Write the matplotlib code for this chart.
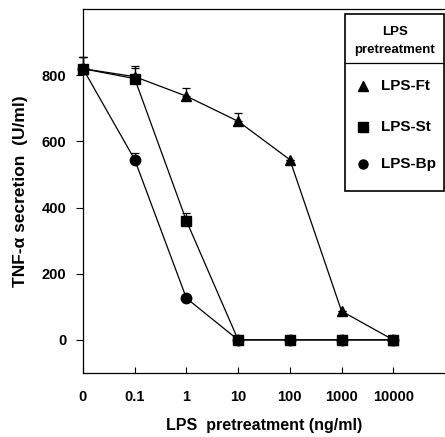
import matplotlib
matplotlib.use("Agg")
import matplotlib.pyplot as plt
from matplotlib.lines import Line2D

plt.rcParams['font.family'] = ['Liberation Sans', 'DejaVu Sans']
plt.rcParams['font.weight'] = 'bold'

# LPS pretreatment doses (categorical positions on x axis)
doses = ['0', '0.1', '1', '10', '100', '1000', '10000']

# TNF-alpha secretion (U/ml)
ft_vals = [820, 796, 737, 661, 545, 87, 0]
st_vals = [820, 790, 360, 0, 0, 0, 0]
bp_vals = [820, 545, 126, 0, 0, 0, 0]

# upper error bars
ft_err = [35, 33, 25, 25, 0, 0, 0]
st_err = [35, 33, 25, 0, 0, 0, 0]
bp_err = [35, 20, 0, 0, 0, 0, 0]

x = list(range(len(doses)))

fig = plt.figure(figsize=(4.45, 4.37), dpi=100)
ax = fig.add_axes([0.1865, 0.1465, 0.8135, 0.8325])

series = [
    (bp_vals, bp_err, 'o', 'LPS-Bp'),
    (st_vals, st_err, 's', 'LPS-St'),
    (ft_vals, ft_err, '^', 'LPS-Ft'),
]
for vals, err, mk, name in series:
    ax.errorbar(x, vals, yerr=[[0] * len(err), err], color='black', lw=0.9,
                marker=mk, markersize=7.5, capsize=3, elinewidth=0.9,
                capthick=0.9, clip_on=False)

ax.set_xlim(0, 7)
ax.set_ylim(-100, 1000)
ax.set_xticks(x)
ax.set_xticklabels(doses)
ax.set_yticks([0, 200, 400, 600, 800])
ax.tick_params(axis='both', labelsize=10.5, width=0.8)
ax.tick_params(axis='y', length=5, pad=7)
ax.tick_params(axis='x', direction='in', length=4, pad=12)
for lbl in ax.get_xticklabels() + ax.get_yticklabels():
    lbl.set_fontweight('bold')
ax.spines['right'].set_visible(False)
for s in ['left', 'bottom', 'top']:
    ax.spines[s].set_linewidth(0.9)

ax.set_xlabel('LPS  pretreatment (ng/ml)', fontsize=11.5, fontweight='bold', labelpad=10)
ax.set_ylabel('TNF-α secretion  (U/ml)', fontsize=12.5, fontweight='bold', labelpad=10)

# legend box drawn by hand
W, H = 445.0, 437.0
def fx(px):
    return px / W
def fy(py):
    return 1 - py / H

box = plt.Rectangle((fx(345), fy(191)), fx(444) - fx(345), fy(14) - fy(191),
                    transform=fig.transFigure, fill=False, lw=1.2, color='black')
fig.add_artist(box)
fig.add_artist(Line2D([fx(345), fx(444)], [fy(63), fy(63)], transform=fig.transFigure,
                      color='black', lw=0.9))
fig.text(fx(395), fy(32), 'LPS', ha='center', va='center', fontsize=9.5)
fig.text(fx(395), fy(50), 'pretreatment', ha='center', va='center', fontsize=9.5)
rows = [('^', 'LPS-Ft', 86), ('s', 'LPS-St', 127), ('o', 'LPS-Bp', 164)]
for mk, name, py in rows:
    fig.add_artist(Line2D([fx(363)], [fy(py)], transform=fig.transFigure,
                          marker=mk, markersize=6.5, color='black', lw=0))
    fig.text(fx(381), fy(py), name, ha='left', va='center', fontsize=11)

fig.savefig('out.png', dpi=100)
